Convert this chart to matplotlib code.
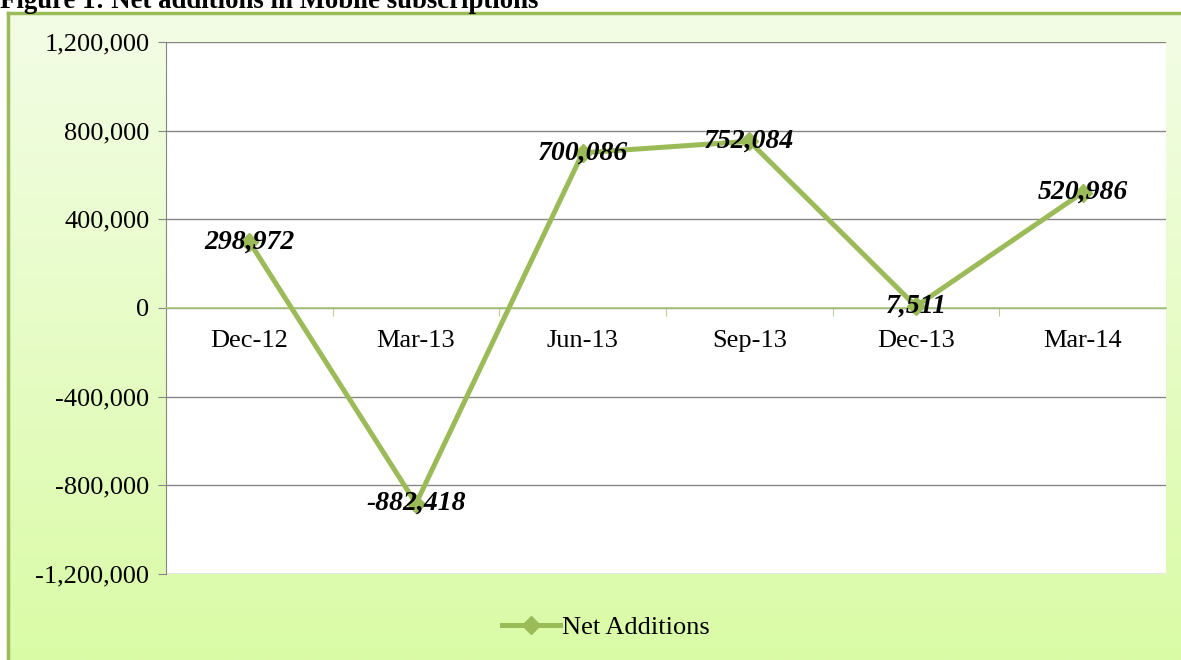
import numpy as np
import matplotlib; matplotlib.use("Agg")
import matplotlib.pyplot as plt
from matplotlib.ticker import FuncFormatter

quarters = ["Dec-12", "Mar-13", "Jun-13", "Sep-13", "Dec-13", "Mar-14"]
net_additions = [298972, -882418, 700086, 752084, 7511, 520986]
yticks = [-1200000, -800000, -400000, 0, 400000, 800000, 1200000]

GREEN = "#9bbb59"
SERIF = ["Liberation Serif", "DejaVu Serif"]
plt.rcParams["font.family"] = SERIF

W, H = 1181, 660
fig = plt.figure(figsize=(W / 100, H / 100), dpi=100)
fig.patch.set_facecolor("white")

# title, clipped at top like the source document
fig.text(0.0, 1 - 8 / H, "Figure 1: Net additions in Mobile subscriptions",
         fontsize=19.3, fontweight="bold", va="baseline", ha="left")

# chart area with vertical gradient and green border
bg = fig.add_axes([8 / W, 0, 1 - 8 / W, (H - 13) / H])
top = np.array([0xf3, 0xfd, 0xe6]) / 255
bot = np.array([0xda, 0xfb, 0xa6]) / 255
t = np.linspace(0, 1, 256)[:, None]
grad = (top[None, :] * (1 - t) + bot[None, :] * t)[:, None, :]
bg.imshow(grad, aspect="auto", extent=[0, 1, 0, 1])
bg.set_xticks([]); bg.set_yticks([])
for side in ("top", "left"):
    bg.spines[side].set_color(GREEN); bg.spines[side].set_linewidth(2.5)
for side in ("right", "bottom"):
    bg.spines[side].set_visible(False)

# plot area
ax = fig.add_axes([166 / W, 1 - 574 / H, 1000 / W, 532 / H])
ax.set_facecolor("white")
x = np.arange(len(quarters))
ax.set_xlim(-0.5, len(quarters) - 0.5)
ax.set_ylim(-1200000, 1200000)
ax.set_yticks(yticks)
ax.yaxis.set_major_formatter(FuncFormatter(lambda v, p: f"{v:,.0f}"))
ax.tick_params(axis="y", length=6, color="#868686", labelsize=19, pad=6)
ax.grid(axis="y", color="#868686", lw=1)
ax.set_axisbelow(True)

ax.spines["bottom"].set_position(("data", 0))
ax.spines["bottom"].set_color("#a9c77a")
ax.spines["bottom"].set_linewidth(1.2)
ax.spines["left"].set_color("#868686")
for side in ("top", "right"):
    ax.spines[side].set_visible(False)
ax.set_xticks(x)
ax.set_xticklabels(quarters)
ax.tick_params(axis="x", which="major", length=0, labelsize=19, pad=16)
ax.set_xticks(np.arange(0.5, len(quarters) - 0.5), minor=True)
ax.tick_params(axis="x", which="minor", length=6, color="#a9c77a", direction="out")

ax.plot(x, net_additions, color=GREEN, lw=3.6, marker="D", ms=9,
        label="Net Additions", zorder=3)
for xi, v in zip(x, net_additions):
    ax.text(xi, v, f"{v:,}", ha="center", va="center", fontsize=20,
            fontweight="bold", fontstyle="italic", zorder=4)

fig.legend(*ax.get_legend_handles_labels(), loc="center",
           bbox_to_anchor=(606 / W, 1 - 627 / H), frameon=False,
           fontsize=19, handlelength=2.2, handletextpad=0.1)

fig.savefig("out.png", dpi=100)
